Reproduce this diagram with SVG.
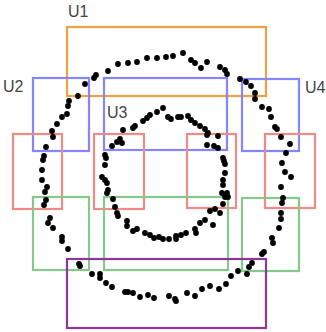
<svg xmlns="http://www.w3.org/2000/svg" width="326" height="332" viewBox="0 0 326 332">
<style>
.r{fill:none;stroke-width:2.2}
.o{stroke:#f0a040}
.b{stroke:#8585ff}
.rd{stroke:#f08a84}
.g{stroke:#85c889}
.p{stroke:#8a3a96}
.t{font-family:"Liberation Sans",Arial,sans-serif;font-size:16px;fill:#444}
.d circle{fill:#000}
</style>
<rect width="326" height="332" fill="#fff"/>
<g id="U1"><rect class="r o" x="67" y="27" width="199" height="69"/><text class="t" x="68" y="17">U1</text></g>
<g id="U2"><rect class="r b" x="33" y="78" width="56" height="73"/><text class="t" x="3" y="92">U2</text></g>
<g id="U3"><rect class="r b" x="104" y="78" width="123" height="72"/><text class="t" x="107" y="118">U3</text></g>
<g id="U4"><rect class="r b" x="242" y="79" width="57" height="72"/><text class="t" x="305" y="93">U4</text></g>
<g id="R1"><rect class="r rd" x="13" y="134" width="49" height="75"/></g>
<g id="R2"><rect class="r rd" x="94" y="134" width="50" height="75"/></g>
<g id="R3"><rect class="r rd" x="187" y="134" width="49" height="74"/></g>
<g id="R4"><rect class="r rd" x="265" y="134" width="50" height="74"/></g>
<g id="G1"><rect class="r g" x="33" y="197" width="56" height="73"/></g>
<g id="G2"><rect class="r g" x="104" y="197" width="124" height="73"/></g>
<g id="G3"><rect class="r g" x="242" y="198" width="57" height="73"/></g>
<g id="P1"><rect class="r p" x="67" y="259" width="199" height="69"/></g>
<g id="points" class="d">
<circle cx="157" cy="58" r="2.9"/><circle cx="147" cy="58" r="2.9"/><circle cx="137" cy="62" r="2.9"/><circle cx="128" cy="63" r="2.9"/><circle cx="118" cy="64" r="2.9"/><circle cx="108" cy="71" r="2.9"/><circle cx="96" cy="75" r="2.9"/><circle cx="94" cy="78" r="2.9"/><circle cx="85" cy="84" r="2.9"/><circle cx="78" cy="96" r="2.9"/><circle cx="69" cy="101" r="2.9"/><circle cx="68" cy="106" r="2.9"/><circle cx="67" cy="114" r="2.9"/><circle cx="62" cy="117" r="2.9"/><circle cx="57" cy="124" r="2.9"/><circle cx="52" cy="131" r="2.9"/><circle cx="53" cy="137" r="2.9"/><circle cx="46" cy="147" r="2.9"/><circle cx="44" cy="156" r="2.9"/><circle cx="43" cy="160" r="2.9"/>
<circle cx="163" cy="108" r="2.9"/><circle cx="157" cy="112" r="2.9"/><circle cx="150" cy="115" r="2.9"/><circle cx="147" cy="118" r="2.9"/><circle cx="143" cy="121" r="2.9"/><circle cx="135" cy="126" r="2.9"/><circle cx="133" cy="128" r="2.9"/><circle cx="123" cy="130" r="2.9"/><circle cx="120" cy="139" r="2.9"/><circle cx="122" cy="143" r="2.9"/><circle cx="117" cy="142" r="2.9"/><circle cx="112" cy="146" r="2.9"/><circle cx="105" cy="155" r="2.9"/><circle cx="106" cy="158" r="2.9"/><circle cx="105" cy="165" r="2.9"/>
<circle cx="166" cy="57" r="2.9"/><circle cx="173" cy="56" r="2.9"/><circle cx="183" cy="53" r="2.9"/><circle cx="191" cy="60" r="2.9"/><circle cx="195" cy="63" r="2.9"/><circle cx="201" cy="68" r="2.9"/><circle cx="207" cy="62" r="2.9"/><circle cx="220" cy="67" r="2.9"/><circle cx="225" cy="70" r="2.9"/><circle cx="227" cy="74" r="2.9"/><circle cx="240" cy="79" r="2.9"/><circle cx="246" cy="82" r="2.9"/><circle cx="251" cy="86" r="2.9"/><circle cx="255" cy="93" r="2.9"/><circle cx="255" cy="99" r="2.9"/><circle cx="262" cy="107" r="2.9"/><circle cx="269" cy="109" r="2.9"/><circle cx="271" cy="117" r="2.9"/><circle cx="275" cy="127" r="2.9"/><circle cx="277" cy="129" r="2.9"/><circle cx="281" cy="137" r="2.9"/><circle cx="290" cy="144" r="2.9"/><circle cx="286" cy="153" r="2.9"/><circle cx="282" cy="163" r="2.9"/>
<circle cx="168" cy="117" r="2.9"/><circle cx="171" cy="119" r="2.9"/><circle cx="178" cy="117" r="2.9"/><circle cx="181" cy="117" r="2.9"/><circle cx="188" cy="116" r="2.9"/><circle cx="191" cy="120" r="2.9"/><circle cx="195" cy="123" r="2.9"/><circle cx="200" cy="126" r="2.9"/><circle cx="205" cy="129" r="2.9"/><circle cx="208" cy="133" r="2.9"/><circle cx="207" cy="135" r="2.9"/><circle cx="218" cy="136" r="2.9"/><circle cx="207" cy="145" r="2.9"/><circle cx="214" cy="146" r="2.9"/><circle cx="218" cy="148" r="2.9"/><circle cx="223" cy="158" r="2.9"/><circle cx="224" cy="161" r="2.9"/><circle cx="225" cy="164" r="2.9"/>
<circle cx="42" cy="170" r="2.9"/><circle cx="42" cy="180" r="2.9"/><circle cx="47" cy="187" r="2.9"/><circle cx="45" cy="192" r="2.9"/><circle cx="46" cy="200" r="2.9"/><circle cx="44" cy="205" r="2.9"/><circle cx="50" cy="218" r="2.9"/><circle cx="48" cy="223" r="2.9"/><circle cx="53" cy="228" r="2.9"/><circle cx="62" cy="237" r="2.9"/><circle cx="62" cy="241" r="2.9"/><circle cx="68" cy="249" r="2.9"/><circle cx="79" cy="264" r="2.9"/><circle cx="80" cy="266" r="2.9"/><circle cx="92" cy="274" r="2.9"/><circle cx="100" cy="274" r="2.9"/><circle cx="100" cy="278" r="2.9"/><circle cx="106" cy="283" r="2.9"/><circle cx="112" cy="287" r="2.9"/><circle cx="125" cy="292" r="2.9"/><circle cx="128" cy="292" r="2.9"/><circle cx="133" cy="293" r="2.9"/><circle cx="140" cy="297" r="2.9"/><circle cx="148" cy="295" r="2.9"/><circle cx="154" cy="298" r="2.9"/>
<circle cx="102" cy="177" r="2.9"/><circle cx="105" cy="180" r="2.9"/><circle cx="107" cy="183" r="2.9"/><circle cx="108" cy="190" r="2.9"/><circle cx="107" cy="193" r="2.9"/><circle cx="113" cy="199" r="2.9"/><circle cx="115" cy="207" r="2.9"/><circle cx="117" cy="213" r="2.9"/><circle cx="118" cy="216" r="2.9"/><circle cx="127" cy="221" r="2.9"/><circle cx="127" cy="226" r="2.9"/><circle cx="133" cy="231" r="2.9"/><circle cx="137" cy="229" r="2.9"/><circle cx="145" cy="233" r="2.9"/><circle cx="150" cy="235" r="2.9"/><circle cx="154" cy="238" r="2.9"/><circle cx="159" cy="237" r="2.9"/>
<circle cx="163" cy="239" r="2.9"/><circle cx="169" cy="239" r="2.9"/><circle cx="176" cy="236" r="2.9"/><circle cx="176" cy="239" r="2.9"/><circle cx="181" cy="235" r="2.9"/><circle cx="186" cy="233" r="2.9"/><circle cx="195" cy="229" r="2.9"/><circle cx="196" cy="233" r="2.9"/><circle cx="200" cy="223" r="2.9"/><circle cx="205" cy="220" r="2.9"/><circle cx="213" cy="225" r="2.9"/><circle cx="210" cy="211" r="2.9"/><circle cx="215" cy="209" r="2.9"/><circle cx="220" cy="213" r="2.9"/><circle cx="223" cy="204" r="2.9"/><circle cx="225" cy="197" r="2.9"/><circle cx="228" cy="197" r="2.9"/><circle cx="222" cy="193" r="2.9"/><circle cx="223" cy="185" r="2.9"/><circle cx="223" cy="180" r="2.9"/><circle cx="225" cy="173" r="2.9"/><circle cx="227" cy="193" r="2.9"/>
<circle cx="285" cy="172" r="2.9"/><circle cx="291" cy="177" r="2.9"/><circle cx="281" cy="187" r="2.9"/><circle cx="283" cy="198" r="2.9"/><circle cx="282" cy="203" r="2.9"/><circle cx="281" cy="213" r="2.9"/><circle cx="281" cy="219" r="2.9"/><circle cx="279" cy="228" r="2.9"/><circle cx="272" cy="238" r="2.9"/><circle cx="273" cy="243" r="2.9"/><circle cx="264" cy="252" r="2.9"/><circle cx="262" cy="254" r="2.9"/><circle cx="252" cy="263" r="2.9"/><circle cx="249" cy="267" r="2.9"/><circle cx="247" cy="274" r="2.9"/><circle cx="238" cy="271" r="2.9"/><circle cx="231" cy="276" r="2.9"/><circle cx="226" cy="284" r="2.9"/><circle cx="219" cy="289" r="2.9"/><circle cx="210" cy="286" r="2.9"/><circle cx="202" cy="289" r="2.9"/><circle cx="195" cy="296" r="2.9"/><circle cx="187" cy="293" r="2.9"/><circle cx="176" cy="301" r="2.9"/><circle cx="175" cy="299" r="2.9"/><circle cx="169" cy="296" r="2.9"/>
</g>
</svg>
